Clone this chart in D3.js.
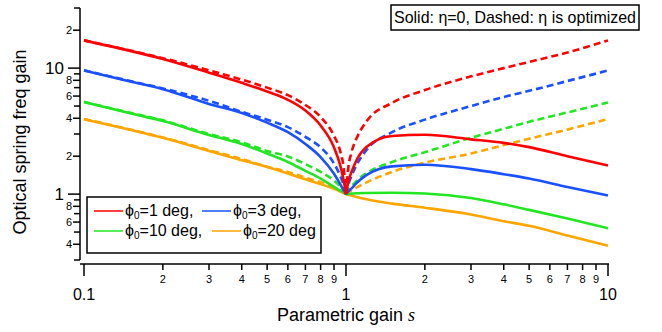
<!DOCTYPE html>
<html>
<head>
<meta charset="utf-8">
<script src="https://cdn.jsdelivr.net/npm/d3@7"></script>
<style>
  body { margin: 0; background: #fff; }
  svg { display: block; font-family: "Liberation Sans", Arial, sans-serif; }
</style>
</head>
<body>
<div id="chart"></div>
<script>
// parametric gain s (x) — shared grid for all curves
const sGrid = [0.1, 0.15, 0.2, 0.3, 0.4, 0.5, 0.6, 0.7, 0.8, 0.9, 0.95, 0.98, 1,
  1.02, 1.05, 1.1, 1.2, 1.5, 2, 3, 4, 5, 7, 10]

// optical spring freq gain, solid: eta = 0
const solid1deg = [16.6, 13.7, 11.8, 9.2, 7.64, 6.52, 5.6, 4.6, 3.5, 2.35, 1.7, 1.28, 1,
  1.25, 1.5, 1.88, 2.38, 2.89, 2.96, 2.72, 2.55, 2.36, 2.0, 1.69]
const solid3deg = [9.58, 7.83, 6.8, 5.2, 4.4, 3.69, 3.1, 2.5, 1.97, 1.45, 1.2, 1.07, 1,
  1.05, 1.11, 1.23, 1.42, 1.66, 1.71, 1.58, 1.44, 1.33, 1.14, 0.975]
const solid10deg = [5.37, 4.39, 3.8, 2.95, 2.5, 2.1, 1.8, 1.53, 1.33, 1.14, 1.07, 1.03, 1,
  1.005, 1.01, 1.015, 1.02, 1.025, 1.01, 0.93, 0.83, 0.75, 0.64, 0.537]
const solid20deg = [3.93, 3.24, 2.8, 2.2, 1.86, 1.64, 1.46, 1.31, 1.2, 1.1, 1.05, 1.02, 1,
  0.99, 0.975, 0.95, 0.91, 0.84, 0.78, 0.69, 0.61, 0.56, 0.47, 0.39]

// dashed: eta optimized
const dashed1deg = [16.6, 13.8, 12.0, 9.6, 8.1, 7.0, 6.1, 5.1, 4.1, 2.9, 2.2, 1.6, 1,
  1.6, 2.15, 2.8, 3.8, 5.3, 6.7, 8.6, 10.0, 11.2, 13.3, 16.6]
const dashed3deg = [9.6, 7.9, 6.9, 5.5, 4.5, 3.9, 3.4, 2.85, 2.35, 1.75, 1.4, 1.18, 1,
  1.18, 1.4, 1.72, 2.25, 3.1, 3.9, 5.0, 5.9, 6.6, 7.9, 9.57]
const dashed10deg = [5.4, 4.42, 3.85, 3.0, 2.58, 2.2, 1.99, 1.73, 1.5, 1.28, 1.15, 1.06, 1,
  1.06, 1.15, 1.28, 1.47, 1.8, 2.15, 2.8, 3.3, 3.75, 4.45, 5.33]
const dashed20deg = [3.95, 3.26, 2.82, 2.23, 1.9, 1.65, 1.5, 1.35, 1.24, 1.12, 1.06, 1.025, 1,
  1.03, 1.07, 1.13, 1.24, 1.5, 1.78, 2.1, 2.45, 2.75, 3.25, 3.94]

const phiLabels = ['1 deg,', '3 deg,', '10 deg,', '20 deg']
const colors = ['#ff0000', '#1a50ff', '#22e622', '#ffa500']

// axis ticks
const xMajor = [0.1, 1, 10]
const xMinor = [0.2, 0.3, 0.4, 0.5, 0.6, 0.7, 0.8, 0.9, 2, 3, 4, 5, 6, 7, 8, 9]
const yMajor = [1, 10]
const yMinorLabeled = [0.4, 0.6, 0.8, 2, 4, 6, 8, 20]
const yMinorPlain = [0.3, 0.5, 0.7, 0.9, 3, 5, 7, 9, 30]

const W = 662, H = 332
const narrow = '"Liberation Sans Narrow", "Liberation Sans", sans-serif'

const svg = d3.select('#chart').append('svg')
  .attr('width', W).attr('height', H)

const x = d3.scaleLog().domain([0.1, 10]).range([84, 608])
const y = d3.scaleLog().domain([0.3, 30]).range([260, 8])

const series = [
  { solid: solid1deg, dashed: dashed1deg },
  { solid: solid3deg, dashed: dashed3deg },
  { solid: solid10deg, dashed: dashed10deg },
  { solid: solid20deg, dashed: dashed20deg },
]

// split at s = 1 so the cusp stays sharp
const iOne = sGrid.indexOf(1)
const line = d3.line().x(d => x(d[0])).y(d => y(d[1])).curve(d3.curveMonotoneX)
const segs = vals => {
  const pts = sGrid.map((s, i) => [s, vals[i]])
  return [pts.slice(0, iOne + 1), pts.slice(iOne)]
}

const plot = svg.append('g')
series.slice().reverse().forEach((sr, k) => {
  const c = colors[3 - k]
  segs(sr.dashed).forEach(p => {
    plot.append('path').attr('d', line(p))
      .attr('fill', 'none').attr('stroke', c).attr('stroke-width', 2.6)
      .attr('stroke-dasharray', '7,4')
  })
  segs(sr.solid).forEach(p => {
    plot.append('path').attr('d', line(p))
      .attr('fill', 'none').attr('stroke', c).attr('stroke-width', 2.6)
  })
})

// y axis (left, offset)
const yAx = svg.append('g').attr('stroke', '#000')
yAx.append('line').attr('x1', 80).attr('x2', 80).attr('y1', 8).attr('y2', 260).attr('stroke-width', 1.5)
yMajor.forEach(v => {
  yAx.append('line').attr('x1', 68).attr('x2', 80).attr('y1', y(v)).attr('y2', y(v)).attr('stroke-width', 1.5)
  svg.append('text').attr('x', 64).attr('y', y(v) + 6).attr('text-anchor', 'end')
    .attr('font-size', 17).text(v)
})
yMinorLabeled.forEach(v => {
  yAx.append('line').attr('x1', 73).attr('x2', 80).attr('y1', y(v)).attr('y2', y(v)).attr('stroke-width', 1.5)
  const lead = +String(v).replace('0.', '').charAt(0)
  svg.append('text').attr('x', 72).attr('y', y(v) + 4).attr('text-anchor', 'end')
    .attr('font-size', 11).attr('font-family', narrow).text(lead)
})
yMinorPlain.forEach(v => {
  yAx.append('line').attr('x1', 74).attr('x2', 80).attr('y1', y(v)).attr('y2', y(v)).attr('stroke-width', 1.5)
})

// x axis (bottom, offset)
const xAx = svg.append('g').attr('stroke', '#000')
xAx.append('line').attr('x1', 80).attr('x2', 609).attr('y1', 264).attr('y2', 264).attr('stroke-width', 1.5)
xMajor.forEach(v => {
  xAx.append('line').attr('x1', x(v)).attr('x2', x(v)).attr('y1', 264).attr('y2', 276).attr('stroke-width', 1.5)
  svg.append('text').attr('x', x(v)).attr('y', 300).attr('text-anchor', 'middle')
    .attr('font-size', 16).text(v)
})
xMinor.forEach(v => {
  xAx.append('line').attr('x1', x(v)).attr('x2', x(v)).attr('y1', 264).attr('y2', 270).attr('stroke-width', 1.5)
  const lead = v < 1 ? Math.round(v * 10) : v
  svg.append('text').attr('x', x(v)).attr('y', 283).attr('text-anchor', 'middle')
    .attr('font-size', 11).attr('font-family', narrow).text(lead)
})

// axis titles
const xt = svg.append('text').attr('x', 346).attr('y', 321).attr('text-anchor', 'middle').attr('font-size', 18)
xt.append('tspan').text('Parametric gain ')
xt.append('tspan').attr('font-family', '"Liberation Serif", serif').attr('font-style', 'italic').text('s')

svg.append('text').attr('transform', 'translate(26,142) rotate(-90)')
  .attr('text-anchor', 'middle').attr('font-size', 18).text('Optical spring freq gain')

// legend
const lg = svg.append('g')
lg.append('rect').attr('x', 87).attr('y', 197).attr('width', 234).attr('height', 56)
  .attr('fill', '#fff').attr('stroke', '#000').attr('stroke-width', 1.5)
const legPos = [[94, 211], [202, 211], [94, 231], [212, 231]]
phiLabels.forEach((lab, i) => {
  const [lx, ly] = legPos[i]
  lg.append('line').attr('x1', lx).attr('x2', lx + 29).attr('y1', ly).attr('y2', ly)
    .attr('stroke', colors[i]).attr('stroke-width', 1.5)
  const t = lg.append('text').attr('x', lx + 31).attr('y', ly + 5).attr('font-size', 16)
  t.append('tspan').text('\u03d5')
  t.append('tspan').attr('font-size', 10).attr('dy', 2.5).text('0')
  t.append('tspan').attr('dy', -2.5).text('=' + lab)
})

// note box
svg.append('rect').attr('x', 391).attr('y', 5).attr('width', 248).attr('height', 25)
  .attr('fill', '#fff').attr('stroke', '#000').attr('stroke-width', 1.5)
svg.append('text').attr('x', 394).attr('y', 23).attr('font-size', 17)
  .attr('textLength', 242).attr('lengthAdjust', 'spacingAndGlyphs')
  .text('Solid: \u03b7=0, Dashed: \u03b7 is optimized')
</script>
</body>
</html>
